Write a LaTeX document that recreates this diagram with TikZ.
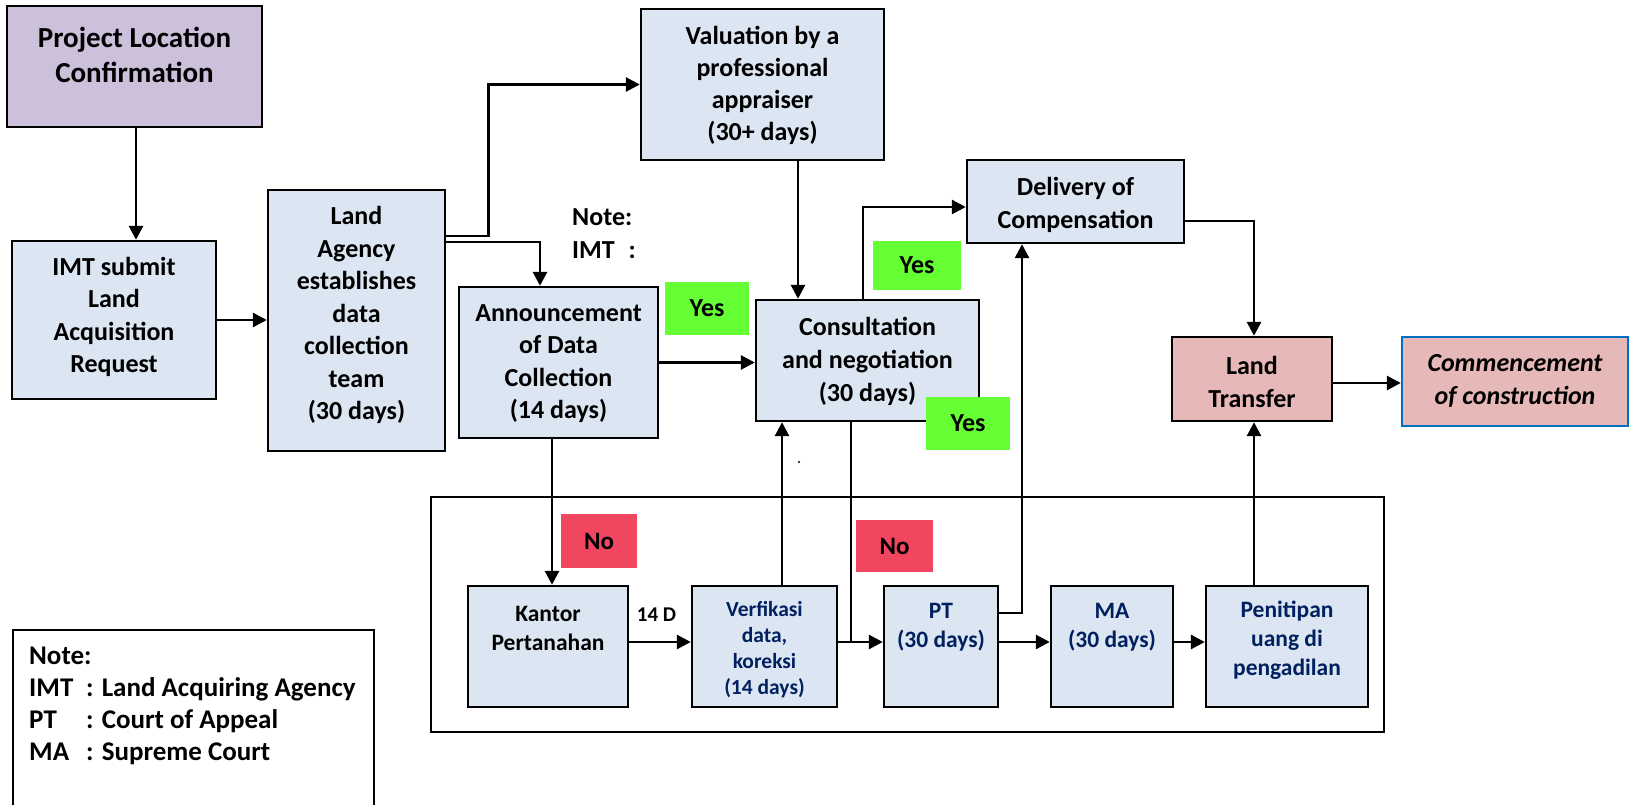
\documentclass[tikz,border=0pt]{standalone}
\usepackage{fontspec}
\setmainfont{Carlito}
\usetikzlibrary{arrows.meta}
\definecolor{boxblue}{HTML}{DCE6F2}
\definecolor{lav}{HTML}{CCC0DA}
\definecolor{rose}{HTML}{E6B9B8}
\definecolor{commblue}{HTML}{0070C0}
\definecolor{yesgreen}{HTML}{66FF33}
\definecolor{nored}{HTML}{F0465F}
\definecolor{navy}{HTML}{002060}
\begin{document}
\begin{tikzpicture}[x=1pt,y=-1pt,
  box/.style={draw=black, line width=2.4pt, fill=boxblue, inner sep=0pt, rectangle},
  tagbox/.style={inner sep=0pt, rectangle, font=\fontsize{26pt}{30pt}\selectfont\bfseries},
  conn/.style={line width=2.8pt, -{Triangle[length=14pt,width=14pt]}},
  plain/.style={line width=2.8pt},
  bigtxt/.style={align=center, inner sep=0pt, font=\fontsize{26pt}{32.5pt}\selectfont\bfseries},
  smalltxt/.style={align=center, inner sep=0pt, font=\fontsize{23.5pt}{29pt}\selectfont\bfseries},
]
\useasboundingbox (0,0) rectangle (1633,805);

% frame round the court route
\draw[line width=2.2pt] (431,497) rectangle (1384,732);
% note box (open at the bottom edge)
\draw[line width=2.2pt] (13,805) -- (13,630) -- (374,630) -- (374,805);

% boxes
\node[box, fill=lav, minimum width=255pt, minimum height=121pt] (proj) at (134.5,66.5) {};
\node[box, minimum width=204pt, minimum height=158pt] (imt) at (114,320) {};
\node[box, minimum width=177pt, minimum height=261pt] (lagency) at (356.5,320.5) {};
\node[box, minimum width=243pt, minimum height=151pt] (val) at (762.5,84.5) {};
\node[box, minimum width=199pt, minimum height=151pt] (ann) at (558.5,362.5) {};
\node[box, minimum width=223pt, minimum height=121pt] (cons) at (867.5,360.5) {};
\node[box, minimum width=217pt, minimum height=83pt] (deliv) at (1075.5,201.5) {};
\node[box, fill=rose, minimum width=160pt, minimum height=84pt] (ltrans) at (1252,379) {};
\node[box, fill=rose, draw=commblue, minimum width=226pt, minimum height=89pt] (comm) at (1515,381.5) {};
\node[box, minimum width=160pt, minimum height=121pt] (kantor) at (548,646.5) {};
\node[box, minimum width=145pt, minimum height=121pt] (verf) at (764.5,646.5) {};
\node[box, minimum width=114pt, minimum height=121pt] (pt) at (941,646.5) {};
\node[box, minimum width=122pt, minimum height=121pt] (ma) at (1112,646.5) {};
\node[box, minimum width=162pt, minimum height=121pt] (pen) at (1287,646.5) {};

% texts
\node[align=center, inner sep=0pt, font=\fontsize{29pt}{35pt}\selectfont\bfseries] (projt) at (134.5,54.5) {Project Location\\Confirmation};
\node[bigtxt] (imtt) at (114,317) {IMT submit\\Land\\Acquisition\\Request};
\node[bigtxt] (lagencyt) at (356.5,315) {Land\\Agency\\establishes\\data\\collection\\team\\(30 days)};
\node[bigtxt, font=\fontsize{26pt}{32pt}\selectfont\bfseries] (valt) at (762.5,85) {Valuation by a\\professional\\appraiser\\(30+ days)};
\node[bigtxt] (annt) at (558.5,363.5) {Announcement\\of Data\\Collection\\(14 days)};
\node[bigtxt, font=\fontsize{26pt}{33pt}\selectfont\bfseries] (const) at (867.5,361) {Consultation\\and negotiation\\(30 days)};
\node[bigtxt, font=\fontsize{26pt}{33pt}\selectfont\bfseries] (delivt) at (1075.5,204.5) {Delivery of\\Compensation};
\node[bigtxt, font=\fontsize{26pt}{33pt}\selectfont\bfseries] (ltranst) at (1252,381.5) {Land\\Transfer};
\node[bigtxt, font=\fontsize{26pt}{33pt}\selectfont\bfseries\itshape] (commt) at (1515,380.5) {Commencement\\of construction};
\node[smalltxt] (kantort) at (548,628) {Kantor\\Pertanahan};
\node[align=center, inner sep=0pt, text=navy, font=\fontsize{21.5pt}{26pt}\selectfont\bfseries] (verft) at (764.5,650) {Verfikasi\\data,\\koreksi\\(14 days)};
\node[smalltxt, text=navy] (ptt) at (941,627) {PT\\(30 days)};
\node[smalltxt, text=navy] (mat) at (1112,627) {MA\\(30 days)};
\node[smalltxt, text=navy] (pent) at (1287,640) {Penitipan\\uang di\\pengadilan};
\node[inner sep=0pt, font=\fontsize{21pt}{25pt}\selectfont\bfseries] (fourteen) at (656.5,615) {14 D};
\node[anchor=west, align=left, inner sep=0pt, font=\fontsize{26pt}{33pt}\selectfont\bfseries] (notetop) at (572,233.5) {Note:\\IMT\hspace{14pt}:};
\node[anchor=west, align=left, inner sep=0pt, font=\fontsize{27pt}{32pt}\selectfont\bfseries] (notes) at (29,706)
  {Note:\\\makebox[57pt][l]{IMT}: Land Acquiring Agency\\\makebox[57pt][l]{PT}: Court of Appeal\\\makebox[57pt][l]{MA}: Supreme Court};
\fill (799,462) circle[radius=1.2pt];

% connectors
\coordinate (p1) at ([xshift=1.5pt]proj.south);
\draw[conn] (p1) -- (p1 |- imt.north);
\draw[conn] (imt.east) -- (imt.east -| lagency.west);
\coordinate (p3) at ([yshift=84.5pt]lagency.east);
\draw[conn] (p3) -- ++(42,0) |- (val.west);
\coordinate (p4) at ([yshift=78.5pt]lagency.east);
\coordinate (p4b) at ([xshift=-18.5pt]ann.north);
\draw[conn] (p4) -| (p4b);
\draw[conn] (ann.east) -- (ann.east -| cons.west);
\coordinate (p6) at ([xshift=35.5pt]val.south);
\draw[conn] (p6) -- (p6 |- cons.north);
\coordinate (p7) at ([xshift=-4.5pt]cons.north);
\coordinate (p7b) at ([yshift=-5.5pt]deliv.west);
\draw[conn] (p7) |- (p7b);
\coordinate (p8) at ([yshift=-19.5pt]deliv.east);
\coordinate (p8b) at ([xshift=2pt]ltrans.north);
\draw[conn] (p8) -| (p8b);
\coordinate (p9) at ([yshift=-4pt]ltrans.east);
\draw[conn] (p9) -- (p9 -| comm.west);
\coordinate (p10) at ([xshift=-6.5pt]ann.south);
\draw[conn] (p10) -- (p10 |- kantor.north);
\coordinate (row) at ([yshift=4.5pt]kantor.east);
\draw[conn] (row) -- (row -| verf.west);
\coordinate (p12) at ([xshift=17.5pt]verf.north);
\draw[conn] (p12) -- (p12 |- cons.south);
\coordinate (p13) at ([xshift=-16.5pt]cons.south);
\draw[plain] (p13) -- (p13 |- row);
\draw[conn] (verf.east |- row) -- (pt.west |- row);
\coordinate (p14) at ([yshift=33.5pt]pt.east);
\coordinate (p14b) at ([xshift=-53.5pt]deliv.south);
\draw[conn] (p14) -| (p14b);
\draw[conn] (pt.east |- row) -- (ma.west |- row);
\draw[conn] (ma.east |- row) -- (pen.west |- row);
\coordinate (p17) at ([xshift=-33pt]pen.north);
\draw[conn] (p17) -- (p17 |- ltrans.south);

% yes / no tags
\node[tagbox, fill=yesgreen, minimum width=84pt, minimum height=53pt] (yes1) at (707,308.5) {Yes};
\node[tagbox, fill=yesgreen, minimum width=88pt, minimum height=49pt] (yes2) at (917,265.5) {Yes};
\node[tagbox, fill=yesgreen, minimum width=84pt, minimum height=53pt] (yes3) at (968,423.5) {Yes};
\node[tagbox, fill=nored, font=\fontsize{25pt}{30pt}\selectfont\bfseries, minimum width=76pt, minimum height=54pt] (no1) at (599,541) {No};
\node[tagbox, fill=nored, font=\fontsize{25pt}{30pt}\selectfont\bfseries, minimum width=77pt, minimum height=52pt] (no2) at (894.5,546) {No};
\end{tikzpicture}
\end{document}
